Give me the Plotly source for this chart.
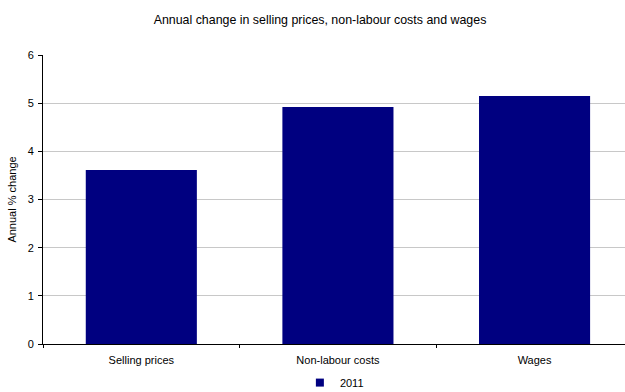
import plotly.graph_objects as go

categories = ["Selling prices", "Non-labour costs", "Wages"]
values_2011 = [3.61, 4.92, 5.15]
series_name = "2011"
y_ticks = [0, 1, 2, 3, 4, 5, 6]

NAVY = "#000080"
FONT = "Liberation Sans, Arial, sans-serif"

fig = go.Figure()
fig.add_trace(go.Bar(
    x=categories,
    y=values_2011,
    name=series_name,
    marker=dict(color=NAVY, line=dict(width=0)),
    width=0.565,
    showlegend=False,
    legendgroup="s2011",
))
# small square key for the legend entry of the same series
fig.add_trace(go.Scatter(
    x=[None], y=[None],
    mode="markers",
    name=series_name,
    legendgroup="s2011",
    marker=dict(symbol="square", size=8, color=NAVY),
    showlegend=True,
    hoverinfo="skip",
))

fig.update_layout(
    width=625,
    height=392,
    margin=dict(l=43, r=0, t=55, b=48),
    paper_bgcolor="white",
    plot_bgcolor="white",
    font=dict(family=FONT, size=11, color="#000000"),
    title=dict(
        text="Annual change in selling prices, non-labour costs and wages",
        x=0.512, xanchor="center", xref="container",
        y=0.95, yanchor="middle", yref="container",
        font=dict(family=FONT, size=12.4, color="#000000"),
    ),
    xaxis=dict(
        range=[-0.5, 2.46],
        showgrid=False,
        showline=True, linecolor="#000000", linewidth=1,
        ticks="outside", tickson="boundaries", ticklen=3, tickcolor="#000000",
        tickfont=dict(family=FONT, size=11),
        ticklabelstandoff=6,
        fixedrange=True,
    ),
    yaxis=dict(
        range=[0, 6],
        tickvals=y_ticks,
        showgrid=True, gridcolor="#c8c8c8", gridwidth=1,
        showline=True, linecolor="#000000", linewidth=1,
        ticks="outside", ticklen=4, tickcolor="#000000",
        tickfont=dict(family=FONT, size=11),
        ticklabelstandoff=2,
        zeroline=False,
        title=dict(text="Annual % change", font=dict(family=FONT, size=11), standoff=8),
    ),
    legend=dict(
        orientation="h",
        x=0.535, xanchor="center", xref="container",
        y=0.024, yanchor="middle", yref="container",
        font=dict(family=FONT, size=11),
        itemwidth=30,
        bgcolor="rgba(0,0,0,0)",
    ),
)

fig.write_html("out.html")
